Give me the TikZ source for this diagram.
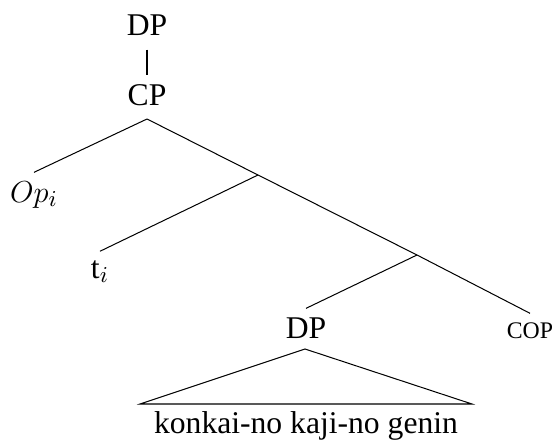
\documentclass[tikz,border=0pt]{standalone}
\usepackage{fontspec}
\setmainfont{Liberation Serif}
\usetikzlibrary{positioning}

\begin{document}
\begin{tikzpicture}[x=0.3953pt,y=-0.3953pt,
  lbl/.style={anchor=base,font=\rmfamily\fontsize{12.5}{15}\selectfont},
  smallcap/.style={anchor=base,font=\rmfamily\fontsize{9.4}{11}\selectfont}]
\useasboundingbox (0,0) rectangle (558,440);
% labels
\node[lbl] (dptop) at (147,35) {DP};
\node[lbl] (cp) at (147,105) {CP};
\node[lbl] (op) at (34,202) {$Op_i$};
\node[lbl] (trace) at (100,278) {t$_i$};
\node[lbl] (dp) at (306,338) {DP};
\node[smallcap] (cop) at (530,338) {COP};
\node[lbl] (words) at (306,433) {konkai-no kaji-no genin};
% branching points
\coordinate (cpbr) at (147,119);
\coordinate (tbar) at (258,175);
\coordinate (cbar) at (417,255);
\coordinate (apex) at (305,349);
\coordinate (tl) at (140,404);
\coordinate (tr) at (472,404);

\draw[shorten <=2.2pt] (dptop.south) -- (cp.north);
\draw (cpbr) -- (op.north);
\draw (cpbr) -- (tbar) -- (cbar) -- (cop.north);
\draw (tbar) -- (trace.north);
\draw (cbar) -- (dp.north);
\draw (apex) -- (tr) -- (tl) -- cycle;

\end{tikzpicture}
\end{document}
